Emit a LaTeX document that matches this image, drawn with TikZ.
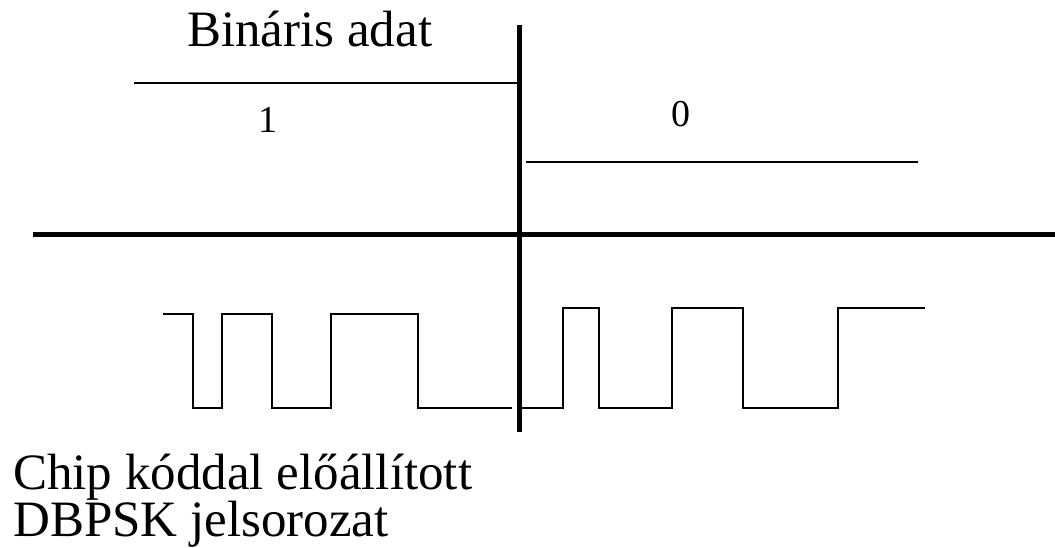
\documentclass[tikz,border=0pt]{standalone}
\usepackage{fontspec}
\setmainfont{Liberation Serif}
\usetikzlibrary{calc}

\tikzset{
  axis/.style={line width=5.5pt},
  bitline/.style={line width=1.4pt},
  chip/.style={line width=1.6pt, line join=miter},
  bigtext/.style={inner sep=0pt, font=\fontsize{51}{51}\selectfont},
  bittext/.style={inner sep=0pt, font=\fontsize{38}{38}\selectfont}
}

\begin{document}
\begin{tikzpicture}[x=1pt,y=-1pt]
\useasboundingbox (0,0) rectangle (1055,548);

% axes
\draw[axis] (33,234.5) -- (1055,234.5);
\draw[axis] (519.5,25) -- (519.5,432);

% the two data bits
\draw[bitline] (134,83) -- (518,83);
\draw[bitline] (526,162) -- (918,162);
\node[bigtext, anchor=base west] (title) at (187,47) {Bináris adat};
\node[bittext, anchor=base] (one) at (268,133) {1};
\node[bittext, anchor=base] (zero) at (681,127) {0};

% the chip sequence, bit 1 then bit 0
\def\chipsOne{193/408,222/314,272/408,331/314,418/408,512/408}
\def\chipsZero{563/308,599/408,672/308,743/408,838/308,925/308}
\draw[chip] (163,314) \foreach \x/\y in \chipsOne { -| (\x,\y) };
\draw[chip] (522,408) \foreach \x/\y in \chipsZero { -| (\x,\y) };

% caption
\node[bigtext, anchor=base west] (capA) at (13,489) {Chip kóddal előállított};
\node[bigtext, anchor=base west] (capB) at (13,536) {DBPSK jelsorozat};

\end{tikzpicture}
\end{document}
